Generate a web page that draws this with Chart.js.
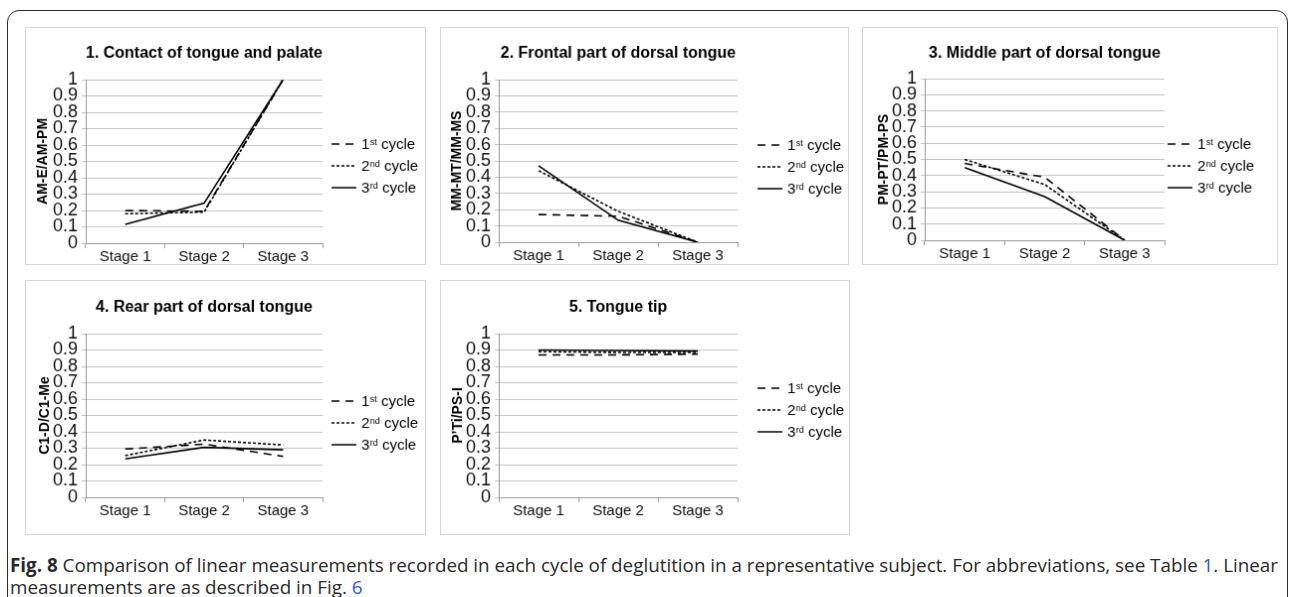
<!DOCTYPE html>
<html>
<head>
<meta charset="utf-8">
<script src="https://cdn.jsdelivr.net/npm/chart.js@4.4.0/dist/chart.umd.min.js"></script>
<style>
  body { margin: 0; background: #fff; width: 1290px; height: 597px; overflow: hidden; position: relative; font-family: "Liberation Sans", Arial, sans-serif; }
  #marco { position: absolute; left: 7px; top: 10px; width: 1279px; height: 640px; border: 1.5px solid #2b2b2b; border-radius: 12px; }
  canvas { position: absolute; border: 1px solid #d6d6d6; }
  #pie { position: absolute; left: 10px; top: 554px; color: #2a2a2a; font-family: "Open Sans", sans-serif; font-size: 19px; line-height: 22px; white-space: nowrap; transform-origin: 0 0; }
  #pie span.lnk { color: #2f55d4; }
</style>
</head>
<body>
<div id="marco"></div>
<canvas id="g1" width="401" height="238" style="left:25px;top:27px"></canvas>
<canvas id="g2" width="409" height="238" style="left:440px;top:27px"></canvas>
<canvas id="g3" width="416" height="238" style="left:862px;top:27px"></canvas>
<canvas id="g4" width="401" height="255" style="left:25px;top:280px"></canvas>
<canvas id="g5" width="410" height="255" style="left:440px;top:280px"></canvas>
<div id="pie">
  <span id="linea1"><b>Fig. 8</b> Comparison of linear measurements recorded in each cycle of deglutition in a representative subject. For abbreviations, see Table <span class="lnk">1</span>. Linear</span><br>
  <span>measurements are as described in Fig. <span class="lnk">6</span></span>
</div>
<script>
// Etiquetas del eje x
var etapas = ['Stage 1', 'Stage 2', 'Stage 3'];

// Leyenda: 1st / 2nd / 3rd cycle
var cicloNum = ['1', '2', '3'];
var cicloSup = ['st', 'nd', 'rd'];
var cicloTexto = ' cycle';

// 1. Contact of tongue and palate
var contacto1 = [0.20, 0.195, 1.0];
var contacto2 = [0.18, 0.19, 1.0];
var contacto3 = [0.115, 0.245, 1.0];

// 2. Frontal part of dorsal tongue
var frontal1 = [0.17, 0.16, 0];
var frontal2 = [0.44, 0.19, 0];
var frontal3 = [0.47, 0.135, 0];

// 3. Middle part of dorsal tongue
var medio1 = [0.475, 0.39, 0];
var medio2 = [0.50, 0.345, 0];
var medio3 = [0.45, 0.27, 0];

// 4. Rear part of dorsal tongue
var trasero1 = [0.295, 0.325, 0.25];
var trasero2 = [0.255, 0.35, 0.32];
var trasero3 = [0.235, 0.305, 0.29];

// 5. Tongue tip
var punta1 = [0.87, 0.87, 0.875];
var punta2 = [0.89, 0.885, 0.885];
var punta3 = [0.90, 0.897, 0.893];

var titulos = ['1. Contact of tongue and palate', '2. Frontal part of dorsal tongue', '3. Middle part of dorsal tongue', '4. Rear part of dorsal tongue', '5. Tongue tip'];
var ejesY = ['AM-E/AM-PM', 'MM-MT/MM-MS', 'PM-PT/PM-PS', 'C1-D/C1-Me', 'P\u2019Ti/PS-I'];

var estilos = [[8, 6], [3, 2], []];
var fuente = '"Liberation Sans", Arial, sans-serif';

// Dibuja la leyenda con superindices
function leyendaCiclos(lx, ly) {
    return {
        id: 'leyendaCiclos',
        afterDraw: function(chart) {
            var ctx = chart.ctx;
            chart.data.datasets.forEach(function(ds, i) {
                var y = ly + (i - 1) * 22;
                ctx.save();
                ctx.strokeStyle = '#000';
                ctx.lineWidth = 1.5;
                ctx.setLineDash(ds.borderDash);
                ctx.beginPath();
                ctx.moveTo(lx, y);
                ctx.lineTo(lx + 25, y);
                ctx.stroke();
                ctx.setLineDash([]);
                ctx.fillStyle = '#000';
                ctx.textBaseline = 'alphabetic';
                var x = lx + 30;
                ctx.font = '15px ' + fuente;
                ctx.fillText(cicloNum[i], x, y + 5);
                x += ctx.measureText(cicloNum[i]).width + 0.5;
                ctx.font = '9px ' + fuente;
                ctx.fillText(cicloSup[i], x, y + 1);
                x += ctx.measureText(cicloSup[i]).width;
                ctx.font = '15px ' + fuente;
                ctx.fillText(cicloTexto, x, y + 5);
                ctx.restore();
            });
        }
    };
}

// p: ancho eje y, arriba, abajo (alto eje x), derecha, centro titulo eje, leyenda x/y
function crearGrafico(id, n, series, p) {
    var ctx = document.getElementById(id).getContext('2d');
    return new Chart(ctx, {
        type: 'line',
        data: {
            labels: etapas,
            datasets: series.map(function(datos, i) {
                return {
                    label: cicloNum[i] + cicloSup[i] + cicloTexto,
                    data: datos,
                    borderColor: '#000',
                    borderWidth: 1.6,
                    borderDash: estilos[i],
                    pointRadius: 0,
                    tension: 0,
                    fill: false
                };
            })
        },
        options: {
            responsive: false,
            animation: false,
            devicePixelRatio: 1,
            layout: { padding: { left: 0, top: 0, right: p.derecha, bottom: 0 } },
            plugins: {
                legend: { display: false },
                tooltip: { enabled: false },
                title: {
                    display: true,
                    text: titulos[n],
                    fullSize: false,
                    color: '#000',
                    font: { family: fuente, size: 16, weight: 'bold', lineHeight: 1.2 },
                    padding: { top: p.tituloY - 9.6, bottom: p.arriba - 19.2 - (p.tituloY - 9.6) }
                }
            },
            scales: {
                x: {
                    type: 'category',
                    offset: true,
                    grid: { offset: true, drawOnChartArea: false, tickLength: 5, color: '#9a9a9a' },
                    border: { color: '#9a9a9a' },
                    ticks: { color: '#111', padding: 0, font: { family: fuente, size: 15 } },
                    afterFit: function(s) { s.height = p.abajo; }
                },
                y: {
                    min: 0,
                    max: 1,
                    grid: { color: '#c4c4c4', tickLength: 4 },
                    border: { color: '#9a9a9a' },
                    ticks: {
                        stepSize: 0.1,
                        autoSkip: false,
                        padding: 4,
                        color: '#111',
                        font: { family: fuente, size: 18, lineHeight: 1 },
                        callback: function(v) { return String(Math.round(v * 10) / 10); }
                    },
                    title: {
                        display: true,
                        text: ejesY[n],
                        color: '#000',
                        font: { family: fuente, size: 14, weight: 'bold', lineHeight: 1.2 },
                        padding: { top: p.ejeX - 8.4, bottom: 0 }
                    },
                    afterFit: function(s) { s.width = p.ancho; }
                }
            }
        },
        plugins: [leyendaCiclos(p.leyX, p.leyY)]
    });
}

crearGrafico('g1', 0, [contacto1, contacto2, contacto3],
    { ancho: 60, arriba: 52, abajo: 21, derecha: 103, tituloY: 26, ejeX: 17, leyX: 307, leyY: 139 });
crearGrafico('g2', 1, [frontal1, frontal2, frontal3],
    { ancho: 58, arriba: 52, abajo: 22, derecha: 111, tituloY: 26, ejeX: 16, leyX: 318, leyY: 140 });
crearGrafico('g3', 2, [medio1, medio2, medio3],
    { ancho: 62, arriba: 51, abajo: 24, derecha: 113, tituloY: 26, ejeX: 21, leyX: 306, leyY: 139 });
crearGrafico('g4', 3, [trasero1, trasero2, trasero3],
    { ancho: 60, arriba: 53, abajo: 37, derecha: 103, tituloY: 27, ejeX: 19, leyX: 307, leyY: 143 });
crearGrafico('g5', 4, [punta1, punta2, punta3],
    { ancho: 58, arriba: 53, abajo: 37, derecha: 112, tituloY: 27, ejeX: 17, leyX: 318, leyY: 130 });

// Comprimir el pie de figura al ancho de la primera linea
var pie = document.getElementById('pie');
var anchoLinea = document.getElementById('linea1').getBoundingClientRect().width;
pie.style.transform = 'scaleX(' + (1268 / anchoLinea) + ')';
</script>
</body>
</html>
